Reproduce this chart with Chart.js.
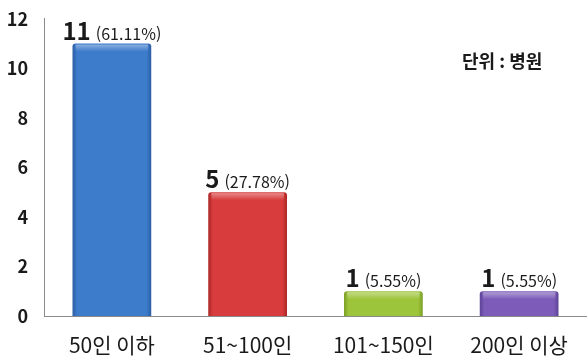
<!DOCTYPE html>
<html lang="ko">
<head>
<meta charset="UTF-8">
<title>병원 규모별 분포</title>
<script src="https://cdn.jsdelivr.net/npm/chart.js"></script>
<style>
  html,body{margin:0;padding:0;background:#fff}
  #wrap{width:587px;height:360px;position:relative}
</style>
</head>
<body>
<div id="wrap"><canvas id="chart" width="587" height="360"></canvas></div>
<script>
const categories = ['50인 이하', '51~100인', '101~150인', '200인 이상'];
const counts = [11, 5, 1, 1];
const shares = ['(61.11%)', '(27.78%)', '(5.55%)', '(5.55%)'];
const yTicks = [0, 2, 4, 6, 8, 10, 12];
const barColors = ['#3d7bcb', '#d83c3c', '#9dc53b', '#7c5cb8'];
const edgeColors = ['#2b5ea6', '#ad2626', '#7b9e26', '#5c4296'];

const FONT = '"Noto Sans CJK KR", "Noto Sans", sans-serif';

// bevel look on each bar: darker sides, light top rim
const bevel = {
  id: 'bevel',
  afterDatasetDraw(chart, args) {
    const ctx = chart.ctx;
    args.meta.data.forEach((bar, i) => {
      const left = bar.x - bar.width / 2, w = bar.width;
      const top = bar.y, h = bar.base - bar.y;
      ctx.save();
      const g = ctx.createLinearGradient(left, 0, left + w, 0);
      g.addColorStop(0, edgeColors[i]);
      g.addColorStop(0.06, barColors[i]);
      g.addColorStop(0.94, barColors[i]);
      g.addColorStop(1, edgeColors[i]);
      ctx.fillStyle = g;
      ctx.beginPath();
      ctx.roundRect(left, top, w, h, [3, 3, 0, 0]);
      ctx.fill();
      const t = ctx.createLinearGradient(0, top, 0, top + 8);
      t.addColorStop(0, 'rgba(255,255,255,0.45)');
      t.addColorStop(1, 'rgba(255,255,255,0)');
      ctx.fillStyle = t;
      ctx.fillRect(left + 3, top + 1, w - 6, 8);
      ctx.restore();
    });
  }
};

// count + share above each bar
const valueLabels = {
  id: 'valueLabels',
  afterDatasetsDraw(chart) {
    const ctx = chart.ctx;
    const meta = chart.getDatasetMeta(0);
    meta.data.forEach((bar, i) => {
      const big = String(counts[i]);
      const small = shares[i];
      ctx.save();
      ctx.textBaseline = 'alphabetic';
      ctx.fillStyle = '#1a1a1a';
      ctx.font = 'bold 24px ' + FONT;
      const bw = ctx.measureText(big).width;
      ctx.font = '16px ' + FONT;
      const sw = ctx.measureText(small).width;
      const gap = 5;
      const x0 = bar.x - (bw + gap + sw) / 2;
      const y = bar.y - 4;
      ctx.font = 'bold 24px ' + FONT;
      ctx.fillText(big, x0, y);
      ctx.font = '16px ' + FONT;
      ctx.fillText(small, x0 + bw + gap, y);
      ctx.restore();
    });
  }
};

new Chart(document.getElementById('chart'), {
  type: 'bar',
  data: {
    labels: categories,
    datasets: [{
      data: counts,
      backgroundColor: 'rgba(0,0,0,0)',
      categoryPercentage: 1,
      barPercentage: 0.58
    }]
  },
  options: {
    responsive: false,
    animation: false,
    layout: { padding: { top: -14, right: 0, bottom: 0, left: 0 } },
    plugins: { legend: { display: false }, tooltip: { enabled: false } },
    scales: {
      x: {
        afterFit(scale) { scale.height = 44; },
        grid: { display: false },
        border: { display: true, color: '#8a8a8a', width: 1 },
        ticks: { color: '#1a1a1a', font: { family: FONT, size: 21 }, padding: 8 }
      },
      y: {
        min: 0,
        max: 12,
        afterBuildTicks(scale) { scale.ticks = yTicks.map(v => ({ value: v })); },
        afterFit(scale) { scale.width = 44; },
        grid: { display: false },
        border: { display: true, color: '#8a8a8a', width: 1 },
        ticks: { color: '#1a1a1a', font: { family: FONT, size: 18, weight: 'bold' }, padding: 8 }
      }
    }
  },
  plugins: [bevel, valueLabels, {
    id: 'unitNote',
    afterDraw(chart) {
      const ctx = chart.ctx;
      ctx.save();
      ctx.font = 'bold 18px ' + FONT;
      ctx.fillStyle = '#1a1a1a';
      ctx.textBaseline = 'middle';
      ctx.fillText('단위 : 병원', 462, 61);
      ctx.restore();
    }
  }]
});
</script>
</body>
</html>
